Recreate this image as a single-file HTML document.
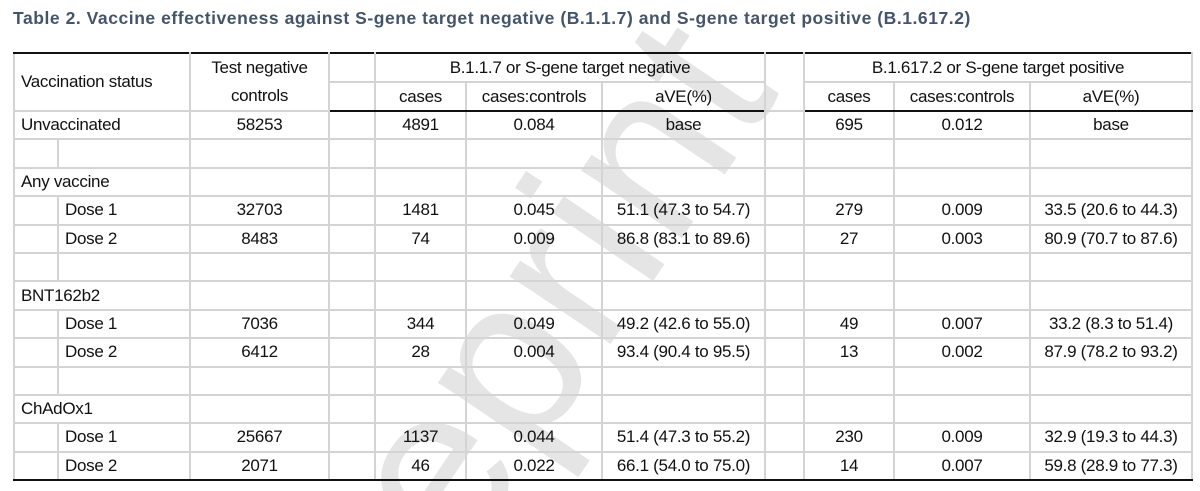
<!DOCTYPE html>
<html><head><meta charset="utf-8"><style>
html,body{margin:0;padding:0;background:#fff;width:1200px;height:491px;overflow:hidden;position:relative}
.title{position:absolute;left:13px;top:8px;font:bold 17.5px "Liberation Sans",sans-serif;letter-spacing:0.55px;color:#44546a;white-space:nowrap}
table{position:absolute;left:13px;top:52px;border-collapse:collapse;table-layout:fixed;font:17px "Liberation Sans",sans-serif;color:#111}
td{border:2px solid #d4d4d4;padding:0 6px;height:26.4px;line-height:26px;text-align:center;white-space:nowrap;overflow:hidden;letter-spacing:-0.3px;box-sizing:content-box}
td.l{text-align:left}
tr.top td{border-top:2px solid #111}
tr.hb td{border-bottom:2.5px solid #111}
tr.last td{border-bottom:2.5px solid #111}
svg.wm{position:absolute;left:0;top:0;pointer-events:none}
</style></head><body>
<div class="title">Table 2. Vaccine effectiveness against S-gene target negative (B.1.1.7) and S-gene target positive (B.1.617.2)</div>
<svg class="wm" width="1200" height="491"><text x="330" y="760" transform="rotate(-56 330 760)" font-family="Liberation Sans, sans-serif" font-size="230" fill="#e0e0e0" fill-opacity="0.85">Preprint</text></svg>
<table>
<colgroup><col style="width:44px"><col style="width:132px"><col style="width:139px"><col style="width:46px"><col style="width:91px"><col style="width:136px"><col style="width:163px"><col style="width:39px"><col style="width:90px"><col style="width:136px"><col style="width:162px"></colgroup>
<tr class="top">
<td class="l" colspan="2" rowspan="2">Vaccination status</td>
<td rowspan="2" style="line-height:28px">Test negative<br>controls</td>
<td></td>
<td colspan="3">B.1.1.7 or S-gene target negative</td>
<td rowspan="2"></td>
<td colspan="3">B.1.617.2 or S-gene target positive</td>
</tr>
<tr class="hb">
<td></td><td>cases</td><td>cases:controls</td><td>aVE(%)</td><td>cases</td><td>cases:controls</td><td>aVE(%)</td>
</tr>
<tr><td class="l" colspan="2">Unvaccinated</td><td>58253</td><td></td><td>4891</td><td>0.084</td><td>base</td><td></td><td>695</td><td>0.012</td><td>base</td></tr>
<tr><td></td><td></td><td></td><td></td><td></td><td></td><td></td><td></td><td></td><td></td><td></td></tr>
<tr><td class="l" colspan="2">Any vaccine</td><td></td><td></td><td></td><td></td><td></td><td></td><td></td><td></td><td></td></tr>
<tr><td></td><td class="l">Dose 1</td><td>32703</td><td></td><td>1481</td><td>0.045</td><td>51.1 (47.3 to 54.7)</td><td></td><td>279</td><td>0.009</td><td>33.5 (20.6 to 44.3)</td></tr>
<tr><td></td><td class="l">Dose 2</td><td>8483</td><td></td><td>74</td><td>0.009</td><td>86.8 (83.1 to 89.6)</td><td></td><td>27</td><td>0.003</td><td>80.9 (70.7 to 87.6)</td></tr>
<tr><td></td><td></td><td></td><td></td><td></td><td></td><td></td><td></td><td></td><td></td><td></td></tr>
<tr><td class="l" colspan="2">BNT162b2</td><td></td><td></td><td></td><td></td><td></td><td></td><td></td><td></td><td></td></tr>
<tr><td></td><td class="l">Dose 1</td><td>7036</td><td></td><td>344</td><td>0.049</td><td>49.2 (42.6 to 55.0)</td><td></td><td>49</td><td>0.007</td><td>33.2 (8.3 to 51.4)</td></tr>
<tr><td></td><td class="l">Dose 2</td><td>6412</td><td></td><td>28</td><td>0.004</td><td>93.4 (90.4 to 95.5)</td><td></td><td>13</td><td>0.002</td><td>87.9 (78.2 to 93.2)</td></tr>
<tr><td></td><td></td><td></td><td></td><td></td><td></td><td></td><td></td><td></td><td></td><td></td></tr>
<tr><td class="l" colspan="2">ChAdOx1</td><td></td><td></td><td></td><td></td><td></td><td></td><td></td><td></td><td></td></tr>
<tr><td></td><td class="l">Dose 1</td><td>25667</td><td></td><td>1137</td><td>0.044</td><td>51.4 (47.3 to 55.2)</td><td></td><td>230</td><td>0.009</td><td>32.9 (19.3 to 44.3)</td></tr>
<tr class="last"><td></td><td class="l">Dose 2</td><td>2071</td><td></td><td>46</td><td>0.022</td><td>66.1 (54.0 to 75.0)</td><td></td><td>14</td><td>0.007</td><td>59.8 (28.9 to 77.3)</td></tr>
</table>
</body></html>
